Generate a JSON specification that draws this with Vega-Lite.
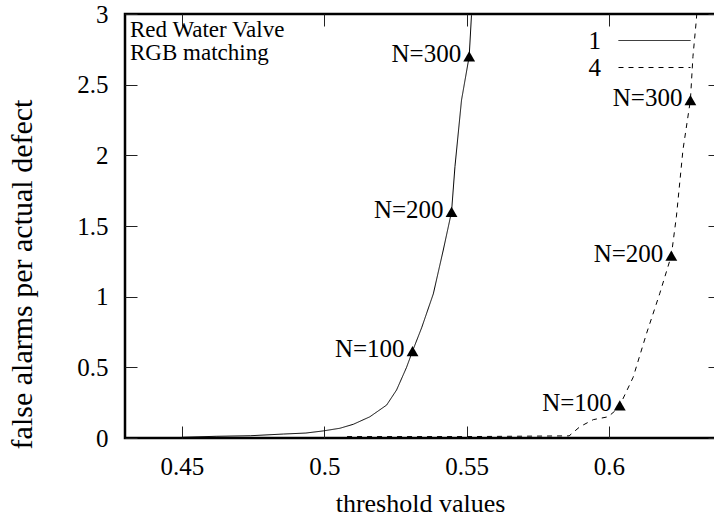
{
  "$schema": "https://vega.github.io/schema/vega-lite/v6.json",
  "width": 595,
  "height": 424,
  "autosize": "none",
  "padding": {"left": 125, "top": 14, "right": 0, "bottom": 80},
  "config": {
    "view": {"stroke": "black", "strokeWidth": 2.5},
    "font": "Liberation Serif",
    "axis": {
      "domain": false,
      "grid": false,
      "tickColor": "#222",
      "tickWidth": 1,
      "tickSize": -12,
      "labelFont": "Liberation Serif",
      "labelFontSize": 25,
      "labelColor": "black",
      "titleFont": "Liberation Serif",
      "titleFontSize": 26,
      "titleFontWeight": "normal",
      "titleColor": "black"
    }
  },
  "datasets": {
    "curves": [
      {"series": "1", "threshold": 0.450, "rate": 0.005},
      {"series": "1", "threshold": 0.462, "rate": 0.012},
      {"series": "1", "threshold": 0.474, "rate": 0.016},
      {"series": "1", "threshold": 0.4856, "rate": 0.028},
      {"series": "1", "threshold": 0.4935, "rate": 0.035},
      {"series": "1", "threshold": 0.4996, "rate": 0.05},
      {"series": "1", "threshold": 0.5055, "rate": 0.069},
      {"series": "1", "threshold": 0.5102, "rate": 0.097},
      {"series": "1", "threshold": 0.516, "rate": 0.15},
      {"series": "1", "threshold": 0.5219, "rate": 0.233},
      {"series": "1", "threshold": 0.5254, "rate": 0.34},
      {"series": "1", "threshold": 0.5289, "rate": 0.5},
      {"series": "1", "threshold": 0.531, "rate": 0.615},
      {"series": "1", "threshold": 0.5342, "rate": 0.78},
      {"series": "1", "threshold": 0.5383, "rate": 1.02},
      {"series": "1", "threshold": 0.5418, "rate": 1.33},
      {"series": "1", "threshold": 0.5447, "rate": 1.6},
      {"series": "1", "threshold": 0.5459, "rate": 1.92},
      {"series": "1", "threshold": 0.5482, "rate": 2.39},
      {"series": "1", "threshold": 0.5509, "rate": 2.7},
      {"series": "1", "threshold": 0.5517, "rate": 2.99},
      {"series": "1", "threshold": 0.5525, "rate": 3.2},
      {"series": "4", "threshold": 0.508, "rate": 0.01},
      {"series": "4", "threshold": 0.55, "rate": 0.01},
      {"series": "4", "threshold": 0.586, "rate": 0.015},
      {"series": "4", "threshold": 0.5898, "rate": 0.08},
      {"series": "4", "threshold": 0.5945, "rate": 0.13},
      {"series": "4", "threshold": 0.5997, "rate": 0.15},
      {"series": "4", "threshold": 0.6026, "rate": 0.2},
      {"series": "4", "threshold": 0.6038, "rate": 0.23},
      {"series": "4", "threshold": 0.6085, "rate": 0.43},
      {"series": "4", "threshold": 0.6132, "rate": 0.74},
      {"series": "4", "threshold": 0.6178, "rate": 1.02},
      {"series": "4", "threshold": 0.6219, "rate": 1.29},
      {"series": "4", "threshold": 0.6237, "rate": 1.57},
      {"series": "4", "threshold": 0.626, "rate": 2.04},
      {"series": "4", "threshold": 0.6286, "rate": 2.39},
      {"series": "4", "threshold": 0.6295, "rate": 2.7},
      {"series": "4", "threshold": 0.6307, "rate": 2.96},
      {"series": "4", "threshold": 0.6315, "rate": 3.2}
    ],
    "samples": [
      {"series": "1", "label": "N=100", "threshold": 0.531, "rate": 0.615},
      {"series": "1", "label": "N=200", "threshold": 0.5447, "rate": 1.6},
      {"series": "1", "label": "N=300", "threshold": 0.5509, "rate": 2.7},
      {"series": "4", "label": "N=100", "threshold": 0.6038, "rate": 0.23},
      {"series": "4", "label": "N=200", "threshold": 0.6219, "rate": 1.29},
      {"series": "4", "label": "N=300", "threshold": 0.6286, "rate": 2.39}
    ],
    "note": [{"label": "Red Water Valve\nRGB matching"}]
  },
  "resolve": {"axis": {"x": "independent", "y": "independent"}},
  "layer": [
    {
      "data": {"name": "curves"},
      "mark": {"type": "line", "color": "black", "strokeWidth": 1, "clip": true},
      "encoding": {
        "x": {
          "field": "threshold", "type": "quantitative",
          "scale": {"domain": [0.43, 0.639], "nice": false, "zero": false},
          "axis": {"orient": "bottom", "values": [0.45, 0.5, 0.55, 0.6], "format": "~g", "labelPadding": 28, "title": "threshold values", "titleX": 295, "titleY": 65, "titleBaseline": "middle", "titleAnchor": "middle", "titleAlign": "center"}
        },
        "y": {
          "field": "rate", "type": "quantitative",
          "scale": {"domain": [0, 3], "nice": false},
          "axis": {"orient": "left", "values": [0, 0.5, 1, 1.5, 2, 2.5, 3], "format": "~g", "labelPadding": 29, "title": "false alarms per actual defect", "titleFontSize": 30, "titleX": -103, "titleY": 260, "titleBaseline": "middle", "titleAngle": -90, "titleAlign": "center"}
        },
        "strokeDash": {
          "field": "series", "type": "nominal",
          "scale": {"domain": ["1", "4"], "range": [[1, 0], [5, 5]]},
          "legend": {
            "title": null,
            "orient": "none",
            "legendX": 517,
            "legendY": 14,
            "padding": 0,
            "symbolType": "M-6,0H6",
            "symbolSize": 144,
            "symbolStrokeWidth": 1,
            "symbolStrokeColor": "black",
            "labelAlign": "right",
            "labelOffset": -66,
            "labelFont": "Liberation Serif",
            "labelFontSize": 25,
            "labelColor": "black",
            "rowPadding": 1
          }
        }
      }
    },
    {
      "data": {"name": "samples"},
      "mark": {"type": "point", "shape": "triangle-up", "filled": true, "color": "black", "size": 140, "opacity": 1},
      "encoding": {
        "x": {"field": "threshold", "type": "quantitative", "axis": {"orient": "top", "values": [0.45, 0.5, 0.55, 0.6], "labels": false, "title": null}},
        "y": {"field": "rate", "type": "quantitative", "axis": {"orient": "right", "values": [0, 0.5, 1, 1.5, 2, 2.5, 3], "labels": false, "title": null}}
      }
    },
    {
      "data": {"name": "samples"},
      "mark": {"type": "text", "align": "right", "baseline": "middle", "dx": -8, "dy": -2, "fontSize": 25, "font": "Liberation Serif", "color": "black"},
      "encoding": {
        "x": {"field": "threshold", "type": "quantitative", "axis": null},
        "y": {"field": "rate", "type": "quantitative", "axis": null},
        "text": {"field": "label"}
      }
    },
    {
      "data": {"name": "note"},
      "mark": {"type": "text", "align": "left", "baseline": "top", "dx": 5, "dy": 5, "fontSize": 23, "font": "Liberation Serif", "color": "black", "lineBreak": "\n", "lineHeight": 23},
      "encoding": {
        "x": {"datum": 0.43, "type": "quantitative", "axis": null},
        "y": {"datum": 3, "type": "quantitative", "axis": null},
        "text": {"field": "label"}
      }
    }
  ]
}
